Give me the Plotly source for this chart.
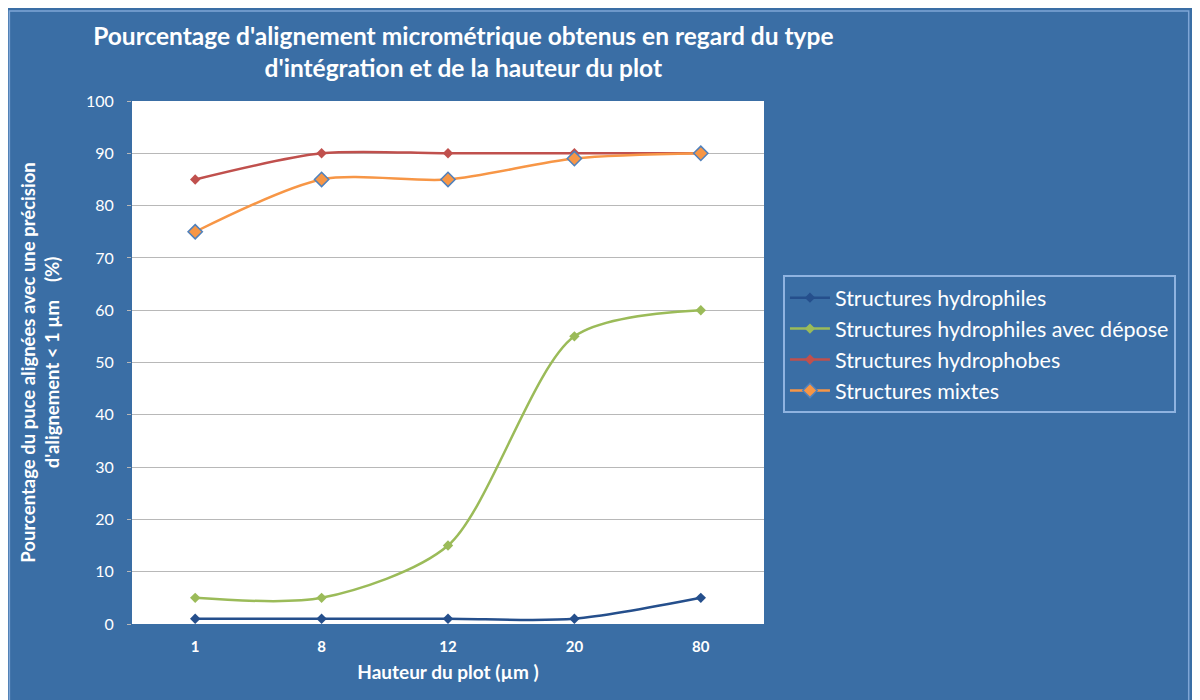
import plotly.graph_objects as go

hauteurs = ["1", "8", "12", "20", "80"]
hydrophiles = [1, 1, 1, 1, 5]
hydrophiles_depose = [5, 5, 15, 55, 60]
hydrophobes = [85, 90, 90, 90, 90]
mixtes = [75, 85, 85, 89, 90]

BG = "#3a6ea5"
FONT = "Lato"

fig = go.Figure()

series = [
    ("Structures hydrophiles", hydrophiles, "#254f8c", dict(size=8, line=dict(width=0))),
    ("Structures hydrophiles avec dépose", hydrophiles_depose, "#9bbb59", dict(size=8, line=dict(width=0))),
    ("Structures hydrophobes", hydrophobes, "#c0504d", dict(size=8, line=dict(width=0))),
    ("Structures mixtes", mixtes, "#f79646", dict(size=11, line=dict(width=1.5, color="#4f81bd"))),
]
for name, vals, col, mk in series:
    fig.add_trace(go.Scatter(
        x=hauteurs, y=vals, name=name, mode="lines+markers",
        line=dict(color=col, width=2.5, shape="spline", smoothing=0.8),
        marker=dict(symbol="diamond", color=col, **mk),
    ))

# thin light frame around the blue chart area
fig.add_shape(type="rect", xref="paper", yref="paper", layer="below",
              x0=-0.194, x1=1.672, y0=-0.15, y1=1.172,
              line=dict(color="#7fa6d6", width=1.5))
fig.add_shape(type="rect", xref="paper", yref="paper", layer="below",
              x0=0, x1=1, y0=0, y1=1, fillcolor="white", line=dict(width=0))

fig.update_layout(
    width=1192, height=692,
    paper_bgcolor=BG, plot_bgcolor="rgba(0,0,0,0)",
    margin=dict(l=124, r=436, t=93, b=76),
    font=dict(family=FONT, color="white"),
    title=dict(
        text="<b>Pourcentage d'alignement micrométrique obtenus en regard du type<br>d'intégration et de la hauteur du plot</b>",
        x=0.382, xanchor="center", y=0.946, yanchor="top",
        font=dict(size=24.5, color="white", family=FONT),
    ),
    xaxis=dict(
        type="category", range=[-0.5, 4.5], showgrid=False, zeroline=False, showline=False,
        tickfont=dict(size=15, color="white", weight="bold"), ticks="",
        ticklabelstandoff=12,
        title=dict(text="<b>Hauteur du plot (µm )</b>", font=dict(size=19, color="white"), standoff=11),
    ),
    yaxis=dict(
        range=[0, 100], dtick=10, showgrid=True, gridcolor="#b8b8b8", gridwidth=1,
        zeroline=False, showline=False, ticks="outside", ticklen=4, tickcolor="#b8b8b8",
        ticklabelstandoff=10,
        tickfont=dict(size=16, color="white"),
        title=dict(text="<b>Pourcentage du puce alignées avec une précision<br>d'alignement < 1 µm    (%)</b>",
                   font=dict(size=18.5, color="white"), standoff=21),
    ),
    legend=dict(
        x=1.03, xanchor="left", y=0.667, yanchor="top",
        bgcolor=BG, bordercolor="#8fb3e0", borderwidth=2,
        font=dict(size=21.5, color="white", family=FONT),
        itemwidth=40, tracegroupgap=0,
    ),
)

fig.write_html("out.html")
